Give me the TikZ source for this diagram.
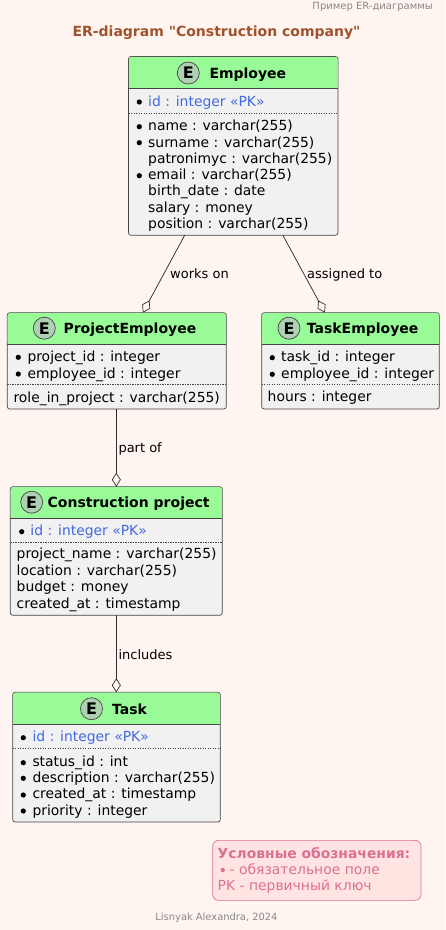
\documentclass[tikz,border=0pt]{standalone}
\usepackage{fontspec}
\setmainfont{DejaVu Sans}
\newfontfamily\plainbold{DejaVu Sans Bold}
\usetikzlibrary{arrows.meta,calc}
\definecolor{bgc}{HTML}{FFF5F0}
\definecolor{hdr}{HTML}{98FB98}
\definecolor{bodyc}{HTML}{F1F1F1}
\definecolor{edge}{HTML}{444444}
\definecolor{pk}{HTML}{4169E1}
\definecolor{ttl}{HTML}{A0522D}
\definecolor{noteln}{HTML}{DB7093}
\definecolor{notefill}{HTML}{FFE4E1}
\definecolor{spotc}{HTML}{ADD1B2}
\definecolor{grayt}{HTML}{888888}
\newcounter{tn}
\tikzset{
  box/.style={draw=edge,fill=bodyc,line width=0.7pt,rounded corners=2.5pt,anchor=north west,inner sep=0pt,outer sep=0pt},
  fieldtxt/.style={anchor=base west,inner sep=0pt,font=\fontsize{13.9}{14}\selectfont,text=black},
  headtxt/.style={anchor=base west,inner sep=0pt,font=\fontsize{14}{14}\selectfont\bfseries,text=black},
  spot/.style={circle,draw=edge,fill=spotc,line width=0.7pt,minimum size=22pt,inner sep=0pt,font=\fontsize{16}{16}\selectfont\bfseries,text=black},
  link/.style={draw=edge!70!black,line width=0.75pt,-{Diamond[open,length=14pt,width=9pt,line width=0.7pt]}},
  lbl/.style={anchor=base west,inner sep=0pt,font=\fontsize{13}{13}\selectfont,text=black},
  dotl/.style={draw=edge,line width=0.55pt,dash pattern=on 1.2pt off 1.3pt},
  notetxt/.style={anchor=base west,inner sep=0pt,font=\fontsize{13.9}{14}\selectfont,text=noteln},
}
% entity box: name, x1, y1, x2, y2, header bottom, dotted y
\newcommand{\entbox}[7]{%
  \node[box,minimum width=#4pt-#2pt,minimum height=#5pt-#3pt] (#1) at (#2,#3) {};
  \fill[hdr,rounded corners=2.5pt] (#2+.4,#6) -- (#2+.4,#3+.4) -- (#4-.4,#3+.4) -- (#4-.4,#6) -- cycle;
  \draw[edge,line width=0.7pt] (#2,#6) -- (#4,#6);
  \draw[dotl] (#2,#7) -- (#4,#7);
}
\newcommand{\ftext}[4][black]{%
  \stepcounter{tn}\node[fieldtxt,text=#1,name=t\arabic{tn}] at (#2,#3) {#4};}
\newcommand{\bul}[2]{\fill[black] (#1,#2) circle (2.6pt);}
\newcommand{\head}[4]{% circle x, text x, baseline, name
  \stepcounter{tn}\node[spot,name=t\arabic{tn}] at (#1,#3-5.3) {E};
  \stepcounter{tn}\node[headtxt,name=t\arabic{tn}] at (#2,#3) {#4};}
\begin{document}
\begin{tikzpicture}[x=1pt,y=-1pt]
\useasboundingbox[fill=bgc] (0,0) rectangle (445,930);
\node[anchor=base east,inner sep=0pt,font=\fontsize{10}{10}\selectfont,text=grayt] (hdrnote) at (433,9) {Пример ER-диаграммы};
\node[anchor=base,inner sep=0pt,font=\plainbold\fontsize{14}{14}\selectfont,text=ttl] (title) at (216.5,36) {ER-diagram "Construction company"};
\node[anchor=base,inner sep=0pt,font=\fontsize{9.9}{10}\selectfont,text=grayt] (footer) at (216.5,920.7) {Lisnyak Alexandra, 2024};

% Employee
\entbox{emp}{128.5}{56.5}{338}{235.3}{88.7}{113.3}
\head{188.3}{209.3}{78.3}{Employee}
\bul{139.3}{102}\ftext[pk]{148}{106}{id : integer «PK»}
\bul{139.3}{126.7}\ftext{148}{130.7}{name : varchar(255)}
\bul{139.3}{142.7}\ftext{148}{147}{surname : varchar(255)}
\ftext{148}{163}{patronimyc : varchar(255)}
\bul{139.3}{175.7}\ftext{148}{179.3}{email : varchar(255)}
\ftext{148}{195.3}{birth\_date : date}
\ftext{148}{212.3}{salary : money}
\ftext{148}{228.3}{position : varchar(255)}

% ProjectEmployee
\entbox{pe}{7.3}{312.7}{226.3}{409}{344.3}{384.3}
\head{44.3}{63.3}{333.5}{ProjectEmployee}
\bul{18.3}{357.3}\ftext{27.3}{361}{project\_id : integer}
\bul{18.3}{374}\ftext{27.3}{378}{employee\_id : integer}
\ftext{13.3}{402}{role\_in\_project : varchar(255)}

% TaskEmployee
\entbox{te}{261.7}{312.7}{439.3}{409}{344.3}{384.3}
\head{289}{306.7}{333.5}{TaskEmployee}
\bul{272.3}{357.7}\ftext{281}{361}{task\_id : integer}
\bul{272.3}{374.3}\ftext{281}{378}{employee\_id : integer}
\ftext{267.5}{401.7}{hours : integer}

% Construction project
\entbox{cp}{10.3}{486.7}{222.3}{615.3}{518.3}{542.3}
\head{31.7}{47.5}{507.5}{Construction project}
\bul{21.7}{531.7}\ftext[pk]{30.3}{535}{id : integer «PK»}
\ftext{16.5}{558.7}{project\_name : varchar(255)}
\ftext{16.5}{575.3}{location : varchar(255)}
\ftext{16.5}{591.7}{budget : money}
\ftext{16.5}{608}{created\_at : timestamp}

% Task
\entbox{tk}{12.7}{692.3}{220.3}{822}{724.3}{748.3}
\head{91.5}{112}{714}{Task}
\bul{23.3}{737.7}\ftext[pk]{32.3}{741.5}{id : integer «PK»}
\bul{23.3}{762.7}\ftext{32.3}{766}{status\_id : int}
\bul{23.3}{778.3}\ftext{32.3}{782}{description : varchar(255)}
\bul{23.3}{795}\ftext{32.3}{798.7}{created\_at : timestamp}
\bul{23.3}{811}\ftext{32.3}{815}{priority : integer}

% connectors
\draw[link] ($(emp.south west)!0.268!(emp.south east)$) -- ($(pe.north west)!0.619!(pe.north east)$);
\draw[link] ($(emp.south west)!0.737!(emp.south east)$) -- ($(te.north west)!0.356!(te.north east)$);
\draw[link] (cp.north |- pe.south) -- (cp.north);
\draw[link] (cp.south) -- (cp.south |- tk.north);
\node[lbl] (l1) at (170,278) {works on};
\node[lbl] (l2) at (307,278) {assigned to};
\node[lbl] (l3) at (118.3,452) {part of};
\node[lbl] (l4) at (118.3,659) {includes};

% legend
\node[draw=noteln,fill=notefill,line width=0.7pt,rounded corners=6pt,anchor=north west,minimum width=208.4pt,minimum height=60pt,inner sep=0pt] (legend) at (212.3,840) {};
\node[notetxt,font=\fontsize{13.9}{14}\selectfont\bfseries] (n1) at (217.5,858.3) {Условные обозначения:};
\fill[noteln] (222.7,870) circle (2.2pt);
\node[notetxt] (n2) at (229.5,874.3) {- обязательное поле};
\node[notetxt] (n3) at (217.5,890.7) {PK - первичный ключ};
\end{tikzpicture}
\end{document}
